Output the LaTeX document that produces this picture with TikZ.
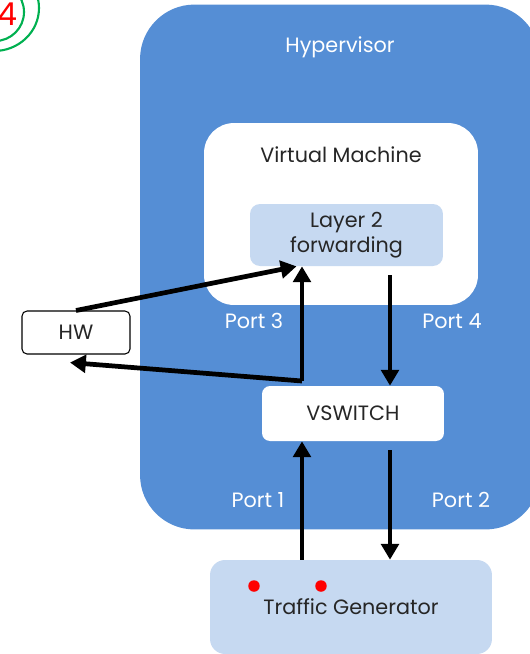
\documentclass[tikz,border=0pt]{standalone}
\usepackage{fontspec}
\setmainfont{Poppins}
\usetikzlibrary{positioning,arrows.meta,calc}
\definecolor{hvblue}{HTML}{558ED5}
\definecolor{paleblue}{HTML}{C6D9F1}
\definecolor{markgreen}{HTML}{00B050}

\begin{document}
\begin{tikzpicture}[
            x=0.02cm, y=-0.02cm,
            every node/.append style={font=\fontsize{11.8}{14}\selectfont, inner sep=0pt},
            box/.style={rounded corners=#1, align=center, text=black!85},
            portlabel/.style={text=white},
            flow/.style={line width=2.7pt, -{Triangle[width=10pt,length=9pt]}},
            dot/.style={circle, fill=red, minimum size=0.23cm}
        ]
            \useasboundingbox (0,0) rectangle (530,654);
            \begin{scope}
            \clip (0,0) rectangle (530,654);
            % step marker
            \draw[markgreen, line width=1.2pt] (-5,12) circle (29);
            \draw[markgreen, line width=1.2pt] (-6,8) ellipse (45 and 43);
            \node (mark) [text=red, font=\fontsize{18}{20}\selectfont] at (7,14) {4};
            % hypervisor and vm
            \node (hyp) [box=31pt, fill=hvblue, minimum width=8cm, minimum height=10.5cm] at (340,267) {};
            \node (hyplabel) [portlabel] at (340,47) {Hypervisor};
            \node (vm) [box=0.6cm, fill=white, minimum width=5.48cm, minimum height=3.64cm] at (341,214) {};
            \node (vmlabel) [text=black!85] at (341,155) {Virtual Machine};
            \node (l2) [box=0.2cm, fill=paleblue, minimum width=3.86cm, minimum height=1.24cm] at (346.5,235) {Layer 2\\forwarding};
            \node (vs) [box=0.16cm, fill=white, minimum width=3.64cm, minimum height=1.1cm] at (353,413.5) {VSWITCH};
            \node (tg) [box=0.3cm, fill=paleblue, minimum width=5.64cm, minimum height=1.88cm] at (351,607) {Traffic Generator};
            \node (hw) [box=0.1cm, draw, line width=0.6pt, fill=white, minimum width=2.16cm, minimum height=0.86cm] at (76,332.5) {HW};
            \node (dotA) [dot] at (254,586) {};
            \node (dotB) [dot] at (321,586) {};
            % ports
            \node (port3) [portlabel] at (254,321) {Port 3};
            \node (port4) [portlabel] at (452,321) {Port 4};
            \node (port1) [portlabel] at (258,500) {Port 1};
            \node (port2) [portlabel] at (461,500) {Port 2};
            \coordinate (p3) at (302,381);
            \coordinate (p4) at (390,275);
            \coordinate (p2) at (390,450);
            % flows
            \draw[flow] (hw.north) -- ([xshift=-1cm]l2.south);
            \draw[flow] (p3) -- (p3 |- l2.south);
            \draw[flow] (p3) -- ([shift={(-6,8)}]hw.south);
            \draw[flow] (p4) -- (p4 |- vs.north);
            \draw[flow] (tg.north -| p3) -- (vs.south -| p3);
            \draw[flow] (p2) -- (p2 |- tg.north);
            \end{scope}
        \end{tikzpicture}
\end{document}
